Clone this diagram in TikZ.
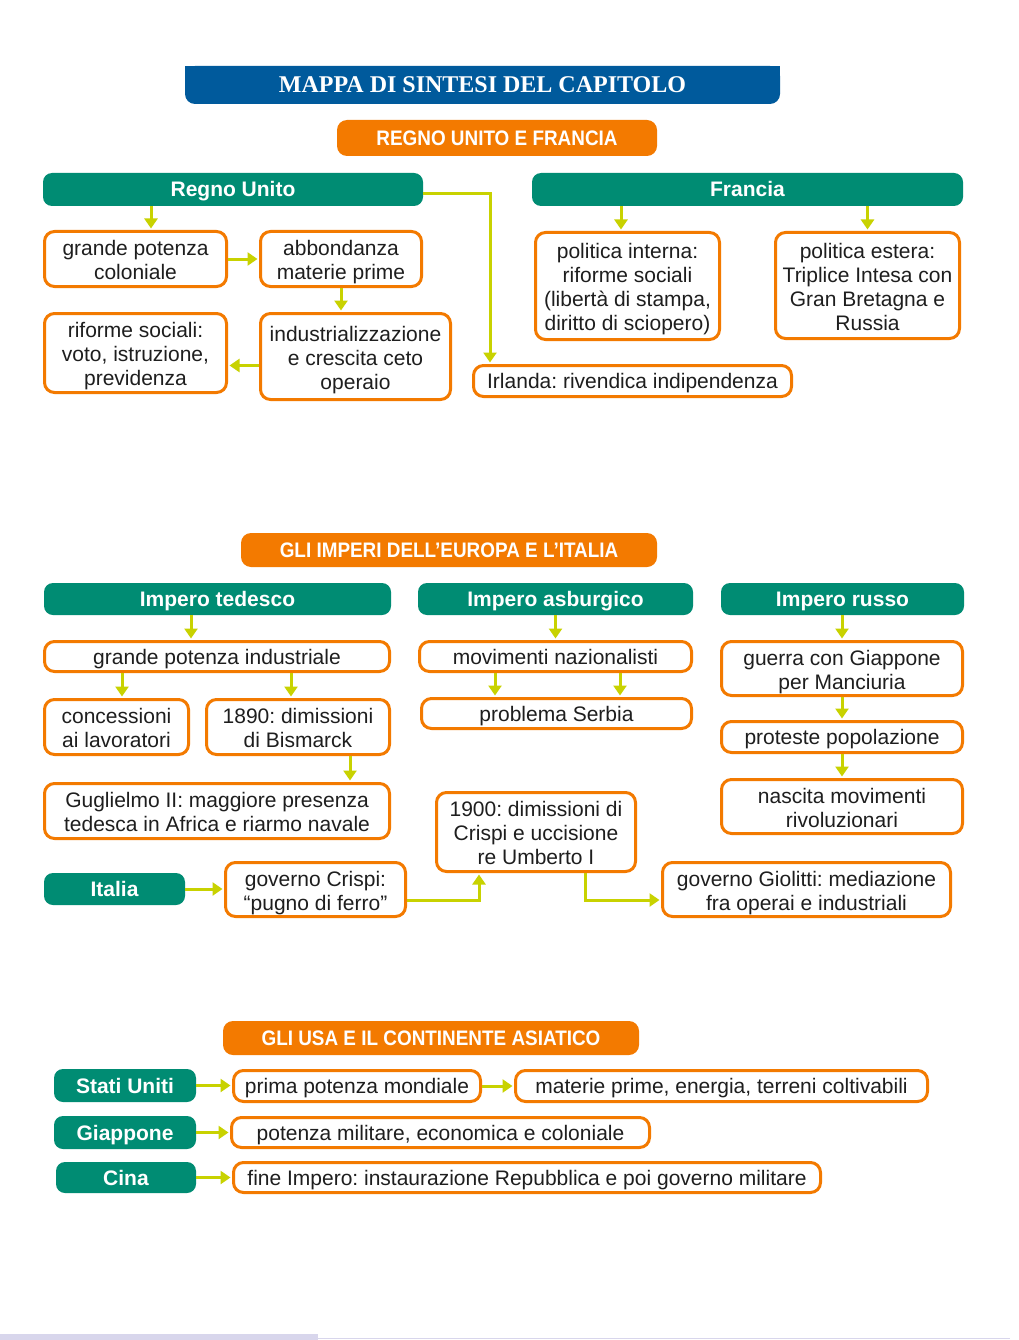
\documentclass[tikz,border=0pt]{standalone}
\usepackage{fontspec}
\setmainfont{Liberation Sans}
\newfontfamily\titlefont{Liberation Serif}
\newfontfamily\condfont[FakeStretch=0.9]{Liberation Sans}
\usetikzlibrary{arrows.meta}
\definecolor{mapblue}{RGB}{0,90,156}
\definecolor{maporange}{RGB}{243,122,0}
\definecolor{mapgreen}{RGB}{0,140,115}
\definecolor{maparrow}{RGB}{200,210,0}
\definecolor{maptext}{RGB}{30,30,30}
\definecolor{mapstrip}{RGB}{216,214,236}
\newcommand{\topline}{\rule{0pt}{22pt}}
\frenchspacing

\begin{document}
\begin{tikzpicture}[x=1pt, y=-1pt, >={Triangle[width=13pt,length=10pt]},
    evenbase/.style={execute at begin node={\rule{0pt}{19.5pt}}, execute at end node={\rule[-4.5pt]{0pt}{4.5pt}}},
    titlebox/.style={fill=mapblue, rounded corners=10pt, inner sep=0pt, text=white, text height=21pt, text depth=5pt, font=\titlefont\bfseries\fontsize{24}{28}\selectfont},
    hbox/.style={evenbase, fill=maporange, rounded corners=10pt, inner sep=0pt, text=white, font=\condfont\bfseries\fontsize{21}{24}\selectfont},
    gbox/.style={evenbase, fill=mapgreen, rounded corners=9pt, inner sep=0pt, text=white, font=\bfseries\fontsize{21}{24}\selectfont},
    obox/.style={evenbase, draw=maporange, line width=3pt, fill=white, rounded corners=10pt, inner sep=0pt, align=center, text=maptext, font=\fontsize{21}{24}\selectfont},
    arr/.style={->, draw=maparrow, line width=3pt, shorten >=1.5pt}]
    \useasboundingbox (0,0) rectangle (1019,1340);
    \fill[white] (0,0) rectangle (1019,1340);

    % Draw title bar (square top, rounded bottom)
    \fill[mapblue] (185,66) rectangle (780,85);
    \node[titlebox, minimum width=595pt, minimum height=38pt] (title) at (482.5,85) {MAPPA DI SINTESI DEL CAPITOLO};

    % Draw Regno Unito e Francia
    \node[hbox, minimum width=320pt, minimum height=36pt] (ruf) at (497,138) {REGNO UNITO E FRANCIA};
    \node[gbox, minimum width=380pt, minimum height=33pt] (ru) at (233,189.5) {Regno Unito};
    \node[gbox, minimum width=431pt, minimum height=33pt] (fr) at (747.5,189.5) {Francia};
    \node[obox, minimum width=182pt, minimum height=55pt] (gpc) at (135.5,259) {\topline grande potenza\\coloniale};
    \node[obox, minimum width=161pt, minimum height=55pt] (abb) at (341,259) {\topline abbondanza\\materie prime};
    \node[obox, minimum width=182pt, minimum height=79pt] (rif) at (135.5,353) {\topline riforme sociali:\\voto, istruzione,\\previdenza};
    \node[obox, minimum width=190pt, minimum height=86pt] (ind) at (355.5,356.5) {\topline industrializzazione\\e crescita ceto\\operaio};
    \node[obox, minimum width=184pt, minimum height=107pt] (pint) at (627.5,286) {\topline politica interna:\\riforme sociali\\(libertà di stampa,\\diritto di sciopero)};
    \node[obox, minimum width=184pt, minimum height=106pt] (pest) at (867.5,285.5) {\topline politica estera:\\Triplice Intesa con\\Gran Bretagna e\\Russia};
    \node[obox, minimum width=318pt, minimum height=31pt] (irl) at (632.5,381) {Irlanda: rivendica indipendenza};

    \draw[arr] ([xshift=15.5pt]gpc.north |- ru.south) -- ([xshift=15.5pt]gpc.north);
    \draw[arr] (gpc.east) -- (abb.west);
    \draw[arr] (abb.south) -- (ind.north -| abb.south);
    \draw[arr] ([yshift=-9pt]ind.west) -- ([yshift=-9pt]ind.west -| rif.east);
    \draw[arr] ([yshift=-4.5pt]ru.east) -| ([xshift=-142.5pt]irl.north);
    \draw[arr] ([xshift=-6.5pt]pint.north |- fr.south) -- ([xshift=-6.5pt]pint.north);
    \draw[arr] (pest.north |- fr.south) -- (pest.north);

    % Draw imperi e Italia
    \node[hbox, minimum width=416pt, minimum height=34pt] (imp) at (449,550) {GLI IMPERI DELL’EUROPA E L’ITALIA};
    \node[gbox, minimum width=347pt, minimum height=32pt] (ted) at (217.5,599) {Impero tedesco};
    \node[gbox, minimum width=275pt, minimum height=32pt] (asb) at (555.5,599) {Impero asburgico};
    \node[gbox, minimum width=243pt, minimum height=32pt] (rus) at (842.5,599) {Impero russo};
    \node[obox, minimum width=345pt, minimum height=30pt] (gpi) at (217,656.5) {grande potenza industriale};
    \node[obox, minimum width=144pt, minimum height=55pt] (conc) at (116.5,727) {\topline concessioni\\ai lavoratori};
    \node[obox, minimum width=183pt, minimum height=55pt] (bism) at (298,727) {\topline 1890: dimissioni\\di Bismarck};
    \node[obox, minimum width=345pt, minimum height=55pt] (gugl) at (217,811) {\topline Guglielmo II: maggiore presenza\\tedesca in Africa e riarmo navale};
    \node[obox, minimum width=272pt, minimum height=30pt] (naz) at (555.5,656.5) {movimenti nazionalisti};
    \node[obox, minimum width=270pt, minimum height=30pt] (serb) at (556.5,713.5) {problema Serbia};
    \node[obox, minimum width=241pt, minimum height=54pt] (gua) at (842,668.5) {\topline guerra con Giappone\\per Manciuria};
    \node[obox, minimum width=241pt, minimum height=31pt] (prot) at (842,737) {proteste popolazione};
    \node[obox, minimum width=241pt, minimum height=54pt] (nasc) at (842,806.5) {\topline nascita movimenti\\rivoluzionari};
    \node[obox, minimum width=199pt, minimum height=79pt] (dim) at (536,832) {\topline 1900: dimissioni di\\Crispi e uccisione\\re Umberto I};
    \node[gbox, minimum width=141pt, minimum height=32pt] (ita) at (114.5,889) {Italia};
    \node[obox, minimum width=180pt, minimum height=54pt] (cri) at (315.5,889.5) {\topline governo Crispi:\\“pugno di ferro”};
    \node[obox, minimum width=288pt, minimum height=54pt] (gio) at (806.5,889.5) {\topline governo Giolitti: mediazione\\fra operai e industriali};

    \draw[arr] ([xshift=-26pt]gpi.north |- ted.south) -- ([xshift=-26pt]gpi.north);
    \draw[arr] ([xshift=5.5pt]conc.north |- gpi.south) -- ([xshift=5.5pt]conc.north);
    \draw[arr] ([xshift=-7pt]bism.north |- gpi.south) -- ([xshift=-7pt]bism.north);
    \draw[arr] ([xshift=52pt]bism.south) -- ([xshift=52pt]bism.south |- gugl.north);
    \draw[arr] (naz.north |- asb.south) -- (naz.north);
    \draw[arr] ([xshift=-61.5pt]serb.north |- naz.south) -- ([xshift=-61.5pt]serb.north);
    \draw[arr] ([xshift=63.5pt]serb.north |- naz.south) -- ([xshift=63.5pt]serb.north);
    \draw[arr] (gua.north |- rus.south) -- (gua.north);
    \draw[arr] (gua.south) -- (prot.north);
    \draw[arr] (prot.south) -- (nasc.north);
    \draw[arr] (ita.east) -- (ita.east -| cri.west);
    \draw[arr] ([yshift=-10.5pt]cri.east) -| ([xshift=-57pt]dim.south);
    \draw[arr] ([xshift=49pt]dim.south) |- ([yshift=-10.5pt]gio.west);

    % Draw USA e Asia
    \node[hbox, minimum width=416pt, minimum height=34pt] (usa) at (431,1038) {GLI USA E IL CONTINENTE ASIATICO};
    \node[gbox, minimum width=142pt, minimum height=33pt] (su) at (125,1085.5) {Stati Uniti};
    \node[gbox, minimum width=142pt, minimum height=33pt] (gia) at (125,1132.5) {Giappone};
    \node[gbox, minimum width=140pt, minimum height=31pt] (cin) at (126,1177.5) {Cina};
    \node[obox, minimum width=247pt, minimum height=31pt] (pri) at (357,1086) {prima potenza mondiale};
    \node[obox, minimum width=412pt, minimum height=31pt] (mat) at (721.5,1086) {materie prime, energia, terreni coltivabili};
    \node[obox, minimum width=418pt, minimum height=30pt] (pot) at (440.5,1132.5) {potenza militare, economica e coloniale};
    \node[obox, minimum width=587pt, minimum height=30pt] (fin) at (527,1177.5) {fine Impero: instaurazione Repubblica e poi governo militare};

    \draw[arr] (su.east) -- (su.east -| pri.west);
    \draw[arr] (pri.east) -- (mat.west);
    \draw[arr] (gia.east) -- (gia.east -| pot.west);
    \draw[arr] (cin.east) -- (cin.east -| fin.west);

    % Draw bottom strip
    \fill[mapstrip] (0,1334) rectangle (318,1340);
    \draw[mapstrip, line width=1.5pt] (318,1338.5) -- (1010,1338.5);
\end{tikzpicture}
\end{document}
